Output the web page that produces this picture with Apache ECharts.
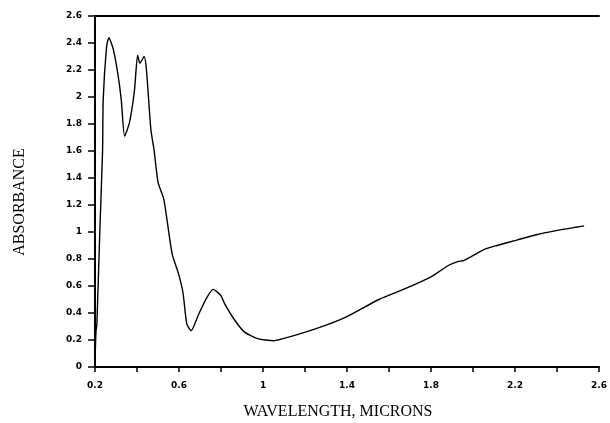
<!DOCTYPE html>
<html>
<head>
  <meta charset="UTF-8">
  <title>Absorbance spectrum</title>
  <script src="https://cdn.jsdelivr.net/npm/echarts@6/dist/echarts.min.js"></script>
  <style>
    html, body { margin: 0; padding: 0; background: #fff; }
    #chart { width: 610px; height: 423px; }
  </style>
</head>
<body>
  <div id="chart"></div>
  <script>
    // wavelength (microns) and absorbance
    const wavelength = [
      0.200, 0.205, 0.209, 0.223, 0.236, 0.239, 0.255, 0.266, 0.286, 0.309,
      0.325, 0.341, 0.364, 0.388, 0.403, 0.414, 0.434, 0.445, 0.466, 0.481,
      0.500, 0.528, 0.567, 0.598, 0.619, 0.637, 0.658, 0.692, 0.731, 0.763,
      0.799, 0.817, 0.864, 0.911, 0.974, 1.052, 1.130, 1.263, 1.395, 1.552,
      1.677, 1.802, 1.880, 1.927, 1.958, 2.052, 2.114, 2.208, 2.302, 2.396,
      2.489, 2.529
    ];
    const absorbance = [
      0.05, 0.27, 0.32, 1.01, 1.60, 1.98, 2.37, 2.44, 2.36, 2.17,
      1.98, 1.71, 1.81, 2.05, 2.31, 2.25, 2.30, 2.20, 1.76, 1.61,
      1.37, 1.24, 0.84, 0.69, 0.55, 0.32, 0.27, 0.385, 0.51, 0.575,
      0.53, 0.47, 0.35, 0.26, 0.21, 0.195, 0.225, 0.29, 0.37, 0.50,
      0.58, 0.67, 0.75, 0.78, 0.79, 0.87, 0.90, 0.94, 0.98, 1.01,
      1.035, 1.045
    ];
    const xTickLabels = ['0.2', '0.6', '1', '1.4', '1.8', '2.2', '2.6'];

    const tickFont = {
      fontFamily: 'DejaVu Sans, sans-serif',
      fontWeight: 'bold',
      fontSize: 9,
      color: '#000'
    };
    const nameFont = '16px "Liberation Serif", "Times New Roman", serif';

    const chart = echarts.init(document.getElementById('chart'));
    chart.setOption({
      animation: false,
      grid: { left: 95, right: 5, top: 16, bottom: 56 },
      xAxis: [{
        type: 'value',
        min: 0.2,
        max: 2.6,
        interval: 0.2,
        splitLine: { show: false },
        axisLine: { onZero: false, lineStyle: { color: '#000', width: 2 } },
        axisTick: { length: 5, lineStyle: { color: '#000', width: 1.5 } },
        axisLabel: Object.assign({
          margin: 14,
          formatter: v => {
            const s = String(Math.round(v * 10) / 10);
            return xTickLabels.includes(s) ? s : '';
          }
        }, tickFont)
      }, {
        type: 'value',
        position: 'top',
        min: 0.2,
        max: 2.6,
        splitLine: { show: false },
        axisTick: { show: false },
        axisLabel: { show: false },
        axisLine: { onZero: false, lineStyle: { color: '#000', width: 2 } }
      }],
      yAxis: {
        type: 'value',
        min: 0,
        max: 2.6,
        interval: 0.2,
        splitLine: { show: false },
        axisLine: { show: true, onZero: false, lineStyle: { color: '#000', width: 2 } },
        axisTick: { show: true, length: 7, lineStyle: { color: '#000', width: 1.5 } },
        axisLabel: Object.assign({
          margin: 13,
          formatter: v => String(Math.round(v * 10) / 10)
        }, tickFont)
      },
      graphic: [{
        type: 'text',
        style: {
          text: 'ABSORBANCE',
          font: nameFont,
          fill: '#000',
          textAlign: 'center',
          textVerticalAlign: 'middle'
        },
        position: [20, 202],
        rotation: Math.PI / 2
      }, {
        type: 'text',
        style: {
          text: 'WAVELENGTH, MICRONS',
          font: nameFont,
          fill: '#000',
          textAlign: 'center',
          textVerticalAlign: 'middle'
        },
        position: [338, 412]
      }],
      series: [{
        type: 'line',
        data: wavelength.map((w, i) => [w, absorbance[i]]),
        showSymbol: false,
        smooth: 0.2,
        lineStyle: { color: '#000', width: 1.4 }
      }]
    });
  </script>
</body>
</html>
